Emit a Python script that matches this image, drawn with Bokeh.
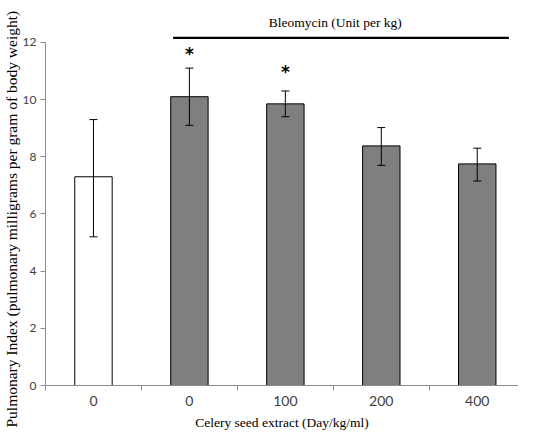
from bokeh.plotting import figure
from bokeh.models import ColumnDataSource, Whisker, TeeHead, FixedTicker, Range1d, Title
from bokeh.core.properties import value
from bokeh.embed import file_html
from bokeh.resources import INLINE

# data
positions = [1, 2, 3, 4, 5]
tick_labels = ["0", "0", "100", "200", "400"]
means = [7.3, 10.1, 9.85, 8.38, 7.75]
lower = [5.2, 9.1, 9.4, 7.7, 7.15]
upper = [9.3, 11.1, 10.3, 9.02, 8.3]
colors = ["white", "#7f7f7f", "#7f7f7f", "#7f7f7f", "#7f7f7f"]

star_x = [2, 3]
star_y = [11.6, 10.95]

bleo_x0 = [1.83]
bleo_x1 = [5.33]
bleo_y = [12.16]
bleo_text_x = [3.52]
bleo_text_y = [12.7]
bleo_label = ["Bleomycin (Unit per kg)"]
y_title = "Pulmonary Index (pulmonary milligrams per gram of body weight)"
x_title = "Celery seed extract (Day/kg/ml)"

SERIF = "Liberation Serif"
SANS = "Lato"

p = figure(width=518, height=432, output_backend="svg", toolbar_location=None,
           x_range=Range1d(0.5, 5.43), y_range=Range1d(0, 13.29),
           min_border_left=43, min_border_right=0, min_border_top=5, min_border_bottom=46)
p.background_fill_color = "white"
p.border_fill_color = "white"
p.outline_line_color = None
p.xgrid.grid_line_color = None
p.ygrid.grid_line_color = None

src = ColumnDataSource(dict(x=positions, top=means, lower=lower, upper=upper, color=colors))
p.vbar(x="x", top="top", bottom=0, width=0.39, source=src, fill_color="color",
       line_color="black", line_width=1)

w = Whisker(base="x", lower="lower", upper="upper", source=src, line_color="black", line_width=1,
            level="overlay",
            upper_head=TeeHead(size=8, line_color="black", line_width=1),
            lower_head=TeeHead(size=8, line_color="black", line_width=1))
p.add_layout(w)

p.text(x=star_x, y=star_y, text=["*", "*"], text_align="center", text_baseline="middle",
       text_font=value("DejaVu Sans"), text_font_style="bold", text_font_size="17px", text_color="black")

p.segment(x0=bleo_x0, x1=bleo_x1, y0=bleo_y, y1=bleo_y, line_color="black", line_width=2.2)
p.text(x=bleo_text_x, y=bleo_text_y, text=bleo_label, text_align="center", text_baseline="middle",
       text_font=value(SERIF), text_font_size="13.5px", text_color="black")

# x axis
xa = p.xaxis[0]
xa.ticker = FixedTicker(ticks=positions, minor_ticks=[0.5, 1.5, 2.5, 3.5, 4.5])
xa.major_label_overrides = {pos: lab for pos, lab in zip(positions, tick_labels)}
xa.major_tick_line_color = None
xa.minor_tick_line_color = "#8c8c8c"
xa.minor_tick_out = 5
xa.minor_tick_in = 0
xa.axis_line_color = "#8c8c8c"
xa.major_label_text_font = SANS
xa.major_label_text_font_size = "14px"
xa.major_label_text_color = "#404040"
xa.major_label_standoff = 4
xa.axis_label = x_title
xa.axis_label_text_font = SERIF
xa.axis_label_text_font_style = "normal"
xa.axis_label_text_font_size = "13.5px"
xa.axis_label_text_color = "black"
xa.axis_label_standoff = 6

# y axis
ya = p.yaxis[0]
ya.ticker = FixedTicker(ticks=[0, 2, 4, 6, 8, 10, 12])
ya.bounds = (0, 12)
ya.major_tick_out = 5
ya.major_tick_in = 0
ya.minor_tick_line_color = None
ya.major_tick_line_color = "#8c8c8c"
ya.axis_line_color = "#8c8c8c"
ya.major_label_text_font = SANS
ya.major_label_text_font_size = "12px"
ya.major_label_text_color = "#404040"
ya.major_label_standoff = 4

ytitle = Title(text=y_title, align="left", offset=-42, standoff=0,
               text_font=SERIF, text_font_size="15.5px", text_font_style="normal",
               text_color="black")
p.add_layout(ytitle, "left")

open("out.html", "w").write(file_html(p, INLINE))
